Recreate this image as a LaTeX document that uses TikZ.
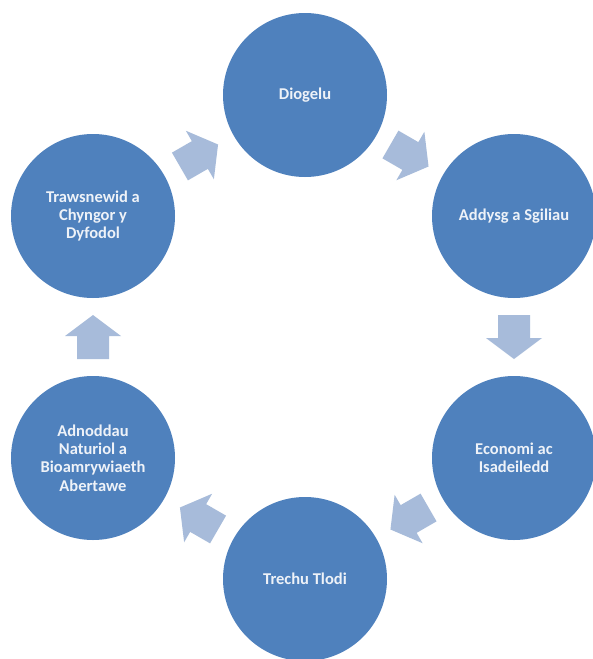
\documentclass[tikz,border=0pt]{standalone}
\usepackage{fontspec}
\setmainfont{Carlito}
\usetikzlibrary{calc}
\definecolor{circblue}{HTML}{4F81BD}
\definecolor{arrblue}{HTML}{A7BBDA}
\definecolor{txtwhite}{HTML}{EEF2F8}
\begin{document}
\begin{tikzpicture}[x=1pt,y=-1pt,
  stage/.style={circle, fill=circblue, minimum size=164pt, inner sep=0pt,
    text=txtwhite, font=\bfseries\fontsize{16.5}{18.4}\selectfont, align=center},
  blockarr/.pic={\fill[arrblue] (-22,-16) -- (1,-16) -- (1,-28) -- (22,0) -- (1,28) -- (1,16) -- (-22,16) -- cycle;}]
\fill[white] (0,0) rectangle (593,659);
\useasboundingbox (0,0) rectangle (593,659);
\node[stage] (dio) at (305,95) {Diogelu};
\node[stage] (add) at (514,216) {Addysg a Sgiliau};
\node[stage] (eco) at (514,458) {Economi ac\\Isadeiledd};
\node[stage] (tre) at (305,579) {Trechu Tlodi};
\node[stage] (adn) at (93,458) {Adnoddau\\Naturiol a\\Bioamrywiaeth\\Abertawe};
\node[stage] (tra) at (93,216) {Trawsnewid a\\Chyngor y\\Dyfodol};
\pic[rotate=-30] at ($(dio)!0.5!(add)$) {blockarr};
\pic[rotate=-90] at ($(add)!0.5!(eco)$) {blockarr};
\pic[rotate=-150] at ($(eco)!0.5!(tre)$) {blockarr};
\pic[rotate=150] at ($(tre)!0.5!(adn)$) {blockarr};
\pic[rotate=90] at ($(adn)!0.5!(tra)$) {blockarr};
\pic[rotate=30] at ($(tra)!0.5!(dio)$) {blockarr};
\end{tikzpicture}
\end{document}
